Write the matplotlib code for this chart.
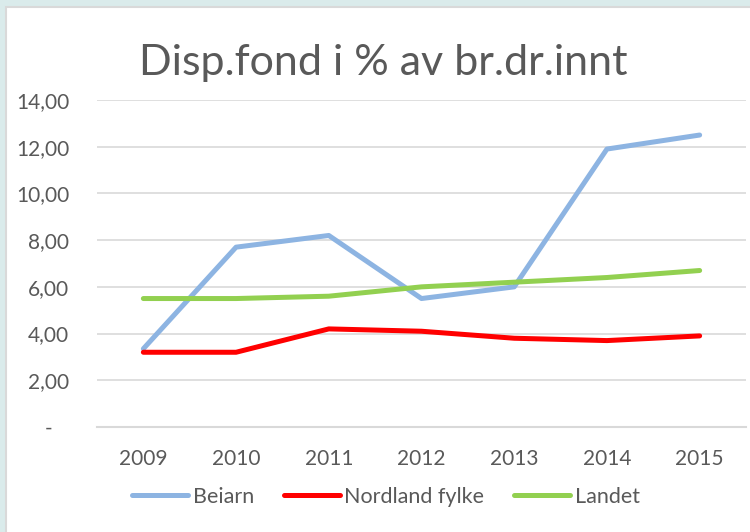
import matplotlib
matplotlib.use("Agg")
import matplotlib.pyplot as plt
from matplotlib.patches import Rectangle

# Data
years = ['2009', '2010', '2011', '2012', '2013', '2014', '2015']
beiarn = [3.35, 7.7, 8.2, 5.5, 6.0, 11.9, 12.5]
nordland = [3.2, 3.2, 4.2, 4.1, 3.8, 3.7, 3.9]
landet = [5.5, 5.5, 5.6, 6.0, 6.2, 6.4, 6.7]
yticks = [0, 2, 4, 6, 8, 10, 12, 14]
ytick_labels = ['-\u00a0\u00a0\u00a0', '2,00', '4,00', '6,00', '8,00', '10,00', '12,00', '14,00']

plt.rcParams['font.family'] = ['Lato', 'DejaVu Sans']
text_color = '#595959'
grid_color = '#D9D9D9'

fig = plt.figure(figsize=(7.5, 5.32), dpi=100)
fig.patch.set_facecolor('#DAEBEB')

# White chart panel with a thin grey edge
panel = Rectangle((6 / 750, -0.01), 1.0, 1 - 7 / 532 + 0.01, transform=fig.transFigure,
                  facecolor='white', edgecolor=grid_color, linewidth=1.5, zorder=-1)
fig.patches.append(panel)

ax = fig.add_axes([97 / 750, (532 - 427) / 532, (746 - 97) / 750, (427 - 100) / 532])
ax.set_facecolor('none')

x = range(len(years))
ax.plot(x, beiarn, color='#8DB4E2', lw=3.6, solid_capstyle='round', label='Beiarn')
ax.plot(x, nordland, color='#FF0000', lw=3.6, solid_capstyle='round', label='Nordland fylke')
ax.plot(x, landet, color='#92D050', lw=3.6, solid_capstyle='round', label='Landet')

ax.set_xlim(-0.5, len(years) - 0.5)
ax.set_ylim(0, 14)
ax.set_xticks(list(x))
ax.set_xticklabels(years)
ax.set_yticks(yticks)
ax.set_yticklabels(ytick_labels)
ax.tick_params(length=0, labelsize=15, labelcolor=text_color)
ax.tick_params(axis='x', pad=16)
ax.tick_params(axis='y', pad=20)

ax.grid(axis='y', color=grid_color, lw=1.2)
ax.set_axisbelow(True)
for side in ['top', 'right', 'left']:
    ax.spines[side].set_visible(False)
ax.spines['bottom'].set_color(grid_color)
ax.spines['bottom'].set_linewidth(1.5)

fig.text(383 / 750, 1 - 63 / 532, 'Disp.fond i % av br.dr.innt', ha='center', va='center',
         fontsize=31, color=text_color)

fig.legend(loc='center', bbox_to_anchor=(386 / 750, 1 - 497 / 532), ncol=3, frameon=False,
           fontsize=15.5, labelcolor=text_color, handlelength=2.6, handletextpad=0.2,
           columnspacing=1.4)

fig.savefig('out.png', dpi=100, facecolor=fig.get_facecolor())
